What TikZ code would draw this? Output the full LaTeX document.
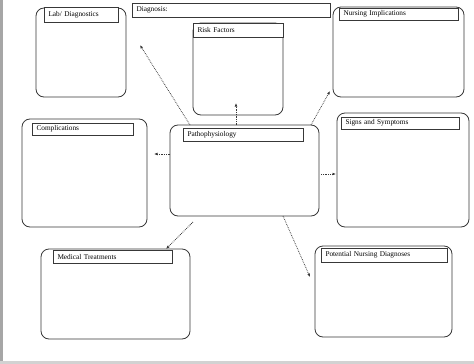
\documentclass[tikz,border=0pt]{standalone}
\usepackage{fontspec}
\setmainfont{Liberation Serif}
\usetikzlibrary{arrows.meta}
\definecolor{ink}{HTML}{383838}
\begin{document}
\begin{tikzpicture}[x=1pt,y=-1pt,
  box/.style={draw=ink, line width=0.8pt, rounded corners=8pt, fill=white, inner sep=0pt, outer sep=0pt, anchor=north west},
  titlebar/.style={draw=ink, line width=0.75pt, fill=white, inner xsep=4.5pt, inner ysep=0pt, outer sep=0pt, anchor=north west, align=left, font=\fontsize{7.3}{8}\selectfont, text=black},
  link/.style={draw=ink, line width=0.75pt, densely dotted, -{Latex[length=3.5pt,width=2.8pt]}}]
\useasboundingbox (0,0) rectangle (474,364);
\fill[white] (0,0) rectangle (474,364);
\fill[gray!70] (0,0) rectangle (3,364);
\fill[gray!35] (0,361) rectangle (474,364);
% boxes
\node[box, minimum width=90pt, minimum height=89pt] (lab) at (36,8) {};
\node[box, minimum width=90pt, minimum height=92pt] (risk) at (193,23) {};
\node[box, minimum width=131pt, minimum height=90pt] (nurs) at (333,7) {};
\node[box, minimum width=125pt, minimum height=108pt] (comp) at (22,119) {};
\node[box, minimum width=149pt, minimum height=91pt] (patho) at (170,125) {};
\node[box, minimum width=132pt, minimum height=114pt] (signs) at (337,113) {};
\node[box, minimum width=149pt, minimum height=90pt] (med) at (41,249) {};
\node[box, minimum width=137pt, minimum height=91pt] (pot) at (315,246) {};
% title bars
\node[titlebar, text width=65pt, minimum height=15pt] (labT) at (44,7) {Lab/ Diagnostics};
\node[titlebar, text width=189pt, minimum height=14pt] (diag) at (132,3) {Diagnosis:};
\node[titlebar, text width=81pt, minimum height=14pt] (riskT) at (193,23) {Risk Factors};
\node[titlebar, text width=110pt, minimum height=12pt] (nursT) at (339,8) {Nursing Implications};
\node[titlebar, text width=92pt, minimum height=12pt] (compT) at (32,123) {Complications};
\node[titlebar, text width=111pt, minimum height=13pt] (pathoT) at (183,128) {Pathophysiology};
\node[titlebar, text width=109pt, minimum height=12pt] (signsT) at (341,117) {Signs and Symptoms};
\node[titlebar, text width=110pt, minimum height=13pt] (medT) at (53,250) {Medical Treatments};
\node[titlebar, text width=117pt, minimum height=14pt] (potT) at (321,248) {Potential Nursing Diagnoses};
% connector ends
\coordinate (s1) at (190,125); \coordinate (e1) at (140,45);
\coordinate (s2) at (236,125); \coordinate (e2) at (236,103);
\coordinate (s3) at (311,125); \coordinate (e3) at (330,91);
\coordinate (s4) at (170,154); \coordinate (e4) at (154,154);
\coordinate (s5) at (321,174); \coordinate (e5) at (336,174);
\coordinate (s6) at (193,222); \coordinate (e6) at (166,249);
\coordinate (s7) at (283,216); \coordinate (e7) at (310,277);
\draw[link] (s1) -- (e1);
\draw[link] (s2) -- (e2);
\draw[link] (s3) -- (e3);
\draw[link] (s4) -- (e4);
\draw[link] (s5) -- (e5);
\draw[link] (s6) -- (e6);
\draw[link] (s7) -- (e7);
\end{tikzpicture}
\end{document}
